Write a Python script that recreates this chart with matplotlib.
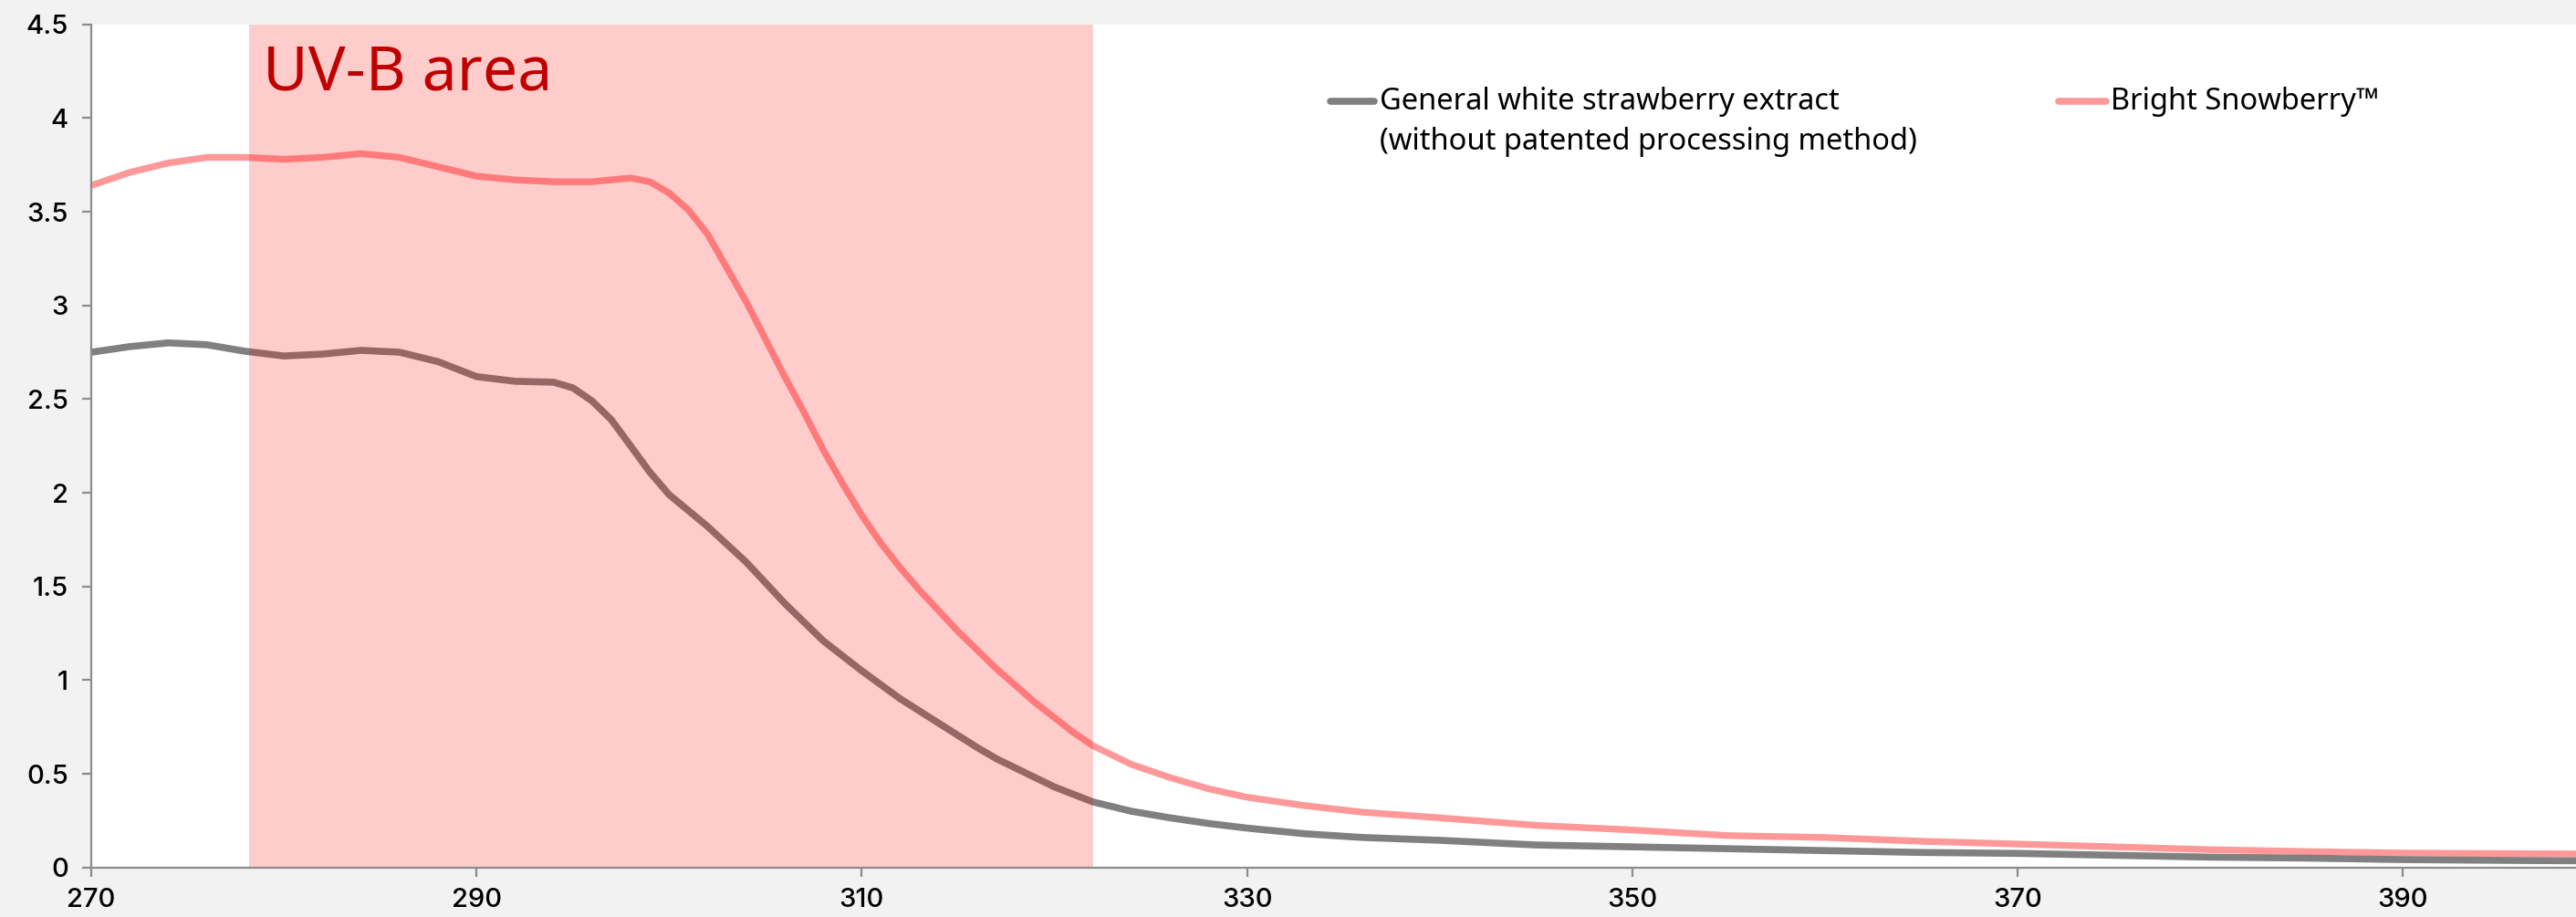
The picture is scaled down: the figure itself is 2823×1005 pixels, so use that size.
import numpy as np
import matplotlib
matplotlib.use("Agg")
import matplotlib.pyplot as plt

# --- data (wavelength nm -> absorbance) --- #
wl_bright = [270, 272, 274, 276, 278, 280, 282, 284, 286, 288, 290, 292, 294, 296, 298,
             299, 300, 301, 302, 303, 304, 305, 306, 307, 308, 309, 310, 311, 312, 313,
             314, 315, 316, 317, 318, 319, 320, 321, 322, 324, 326, 328, 330, 333, 336,
             340, 345, 350, 355, 360, 365, 370, 375, 380, 385, 390, 395, 400]
abs_bright = [3.64, 3.71, 3.76, 3.79, 3.79, 3.78, 3.79, 3.81, 3.79, 3.74, 3.69, 3.67, 3.66, 3.66, 3.68,
              3.66, 3.60, 3.51, 3.38, 3.20, 3.02, 2.82, 2.62, 2.43, 2.23, 2.05, 1.88, 1.73, 1.60, 1.48,
              1.37, 1.26, 1.16, 1.06, 0.97, 0.88, 0.80, 0.72, 0.65, 0.55, 0.48, 0.42, 0.375, 0.33, 0.295,
              0.265, 0.225, 0.20, 0.17, 0.16, 0.14, 0.125, 0.11, 0.095, 0.085, 0.077, 0.074, 0.072]

wl_general = [270, 272, 274, 276, 278, 280, 282, 284, 286, 288, 290, 292, 294, 295, 296,
              297, 298, 299, 300, 302, 304, 306, 308, 310, 312, 314, 316, 317, 318, 319,
              320, 321, 322, 324, 326, 328, 330, 333, 336, 340, 345, 350, 355, 360, 365,
              370, 375, 380, 385, 390, 395, 400]
abs_general = [2.75, 2.78, 2.80, 2.79, 2.755, 2.73, 2.74, 2.76, 2.75, 2.70, 2.62, 2.595, 2.59, 2.56, 2.49,
               2.39, 2.25, 2.11, 1.99, 1.82, 1.63, 1.41, 1.21, 1.05, 0.90, 0.77, 0.64, 0.58, 0.53, 0.48,
               0.43, 0.39, 0.35, 0.30, 0.265, 0.235, 0.21, 0.18, 0.16, 0.145, 0.12, 0.11, 0.10, 0.09, 0.08,
               0.075, 0.065, 0.055, 0.05, 0.042, 0.038, 0.035]

uvb_range = (278.2, 322.0)
x_ticks = [270, 290, 310, 330, 350, 370, 390]
y_ticks = [0, 0.5, 1, 1.5, 2, 2.5, 3, 3.5, 4, 4.5]
y_tick_labels = ['0', '0.5', '1', '1.5', '2', '2.5', '3', '3.5', '4', '4.5']

label_general = ['General white strawberry extract', '(without patented processing method)']
label_bright = 'Bright Snowberry\u2122'

# --- figure --- #
fig = plt.figure(figsize=(28.23, 10.05), dpi=100, facecolor='#f2f2f2')
ax = fig.add_axes([100 / 2823, 54.3 / 1005, 2723 / 2823, 924 / 1005])
ax.set_facecolor('white')

ax.plot(wl_bright, abs_bright, color='#ff9999', lw=5.3, solid_capstyle='round',
        solid_joinstyle='round', zorder=2)
ax.plot(wl_general, abs_general, color='#808080', lw=5.5, solid_capstyle='round',
        solid_joinstyle='round', zorder=2.1)
ax.axvspan(uvb_range[0], uvb_range[1], color='#ff0000', alpha=0.2, lw=0, zorder=2.2)

ax.set_xlim(270, 399)
ax.set_ylim(0, 4.5)
ax.set_xticks(x_ticks)
ax.set_yticks(y_ticks)
ax.set_yticklabels(y_tick_labels)

for s in ['top', 'right']:
    ax.spines[s].set_visible(False)
for s in ['left', 'bottom']:
    ax.spines[s].set_color('#8c8c8c')
    ax.spines[s].set_linewidth(1.6)
    ax.spines[s].set_zorder(3)

ax.tick_params(axis='both', direction='out', length=7, width=1.6, color='#8c8c8c',
               labelsize=21, labelcolor='black')
ax.tick_params(axis='y', pad=11)
ax.tick_params(axis='x', pad=9)
for lab in ax.get_xticklabels() + ax.get_yticklabels():
    lab.set_family(['Inter', 'DejaVu Sans'])
    lab.set_fontweight('medium')

# --- UV-B label --- #
ax.text(278.9, 4.15, 'UV-B area', color='#c00000', fontsize=49,
        family=['Noto Sans', 'DejaVu Sans'], ha='left', va='baseline', zorder=4)

# --- legend, drawn by hand to keep the handle on the first text line --- #
def px2ax(x, y):
    return (x - 100) / 2723, (950.7 - y) / 924

for (x0, x1, col), (tx, txt) in zip(
        [(1458, 1506, '#808080'), (2256, 2308, '#ff9999')],
        [(1512, label_general), (2313, [label_bright])]):
    a0, ay = px2ax(x0, 111)
    a1, _ = px2ax(x1, 111)
    ax.plot([a0, a1], [ay, ay], transform=ax.transAxes, color=col, lw=5.5,
            solid_capstyle='round', clip_on=False, zorder=5)
    for i, line in enumerate(txt):
        bx, by = px2ax(tx, 112 + 44 * i)
        ax.text(bx, by, line, transform=ax.transAxes, fontsize=23.5,
                family=['Noto Sans', 'DejaVu Sans'], ha='left', va='center', zorder=5)

fig.savefig('out.png', dpi=100, facecolor=fig.get_facecolor())
